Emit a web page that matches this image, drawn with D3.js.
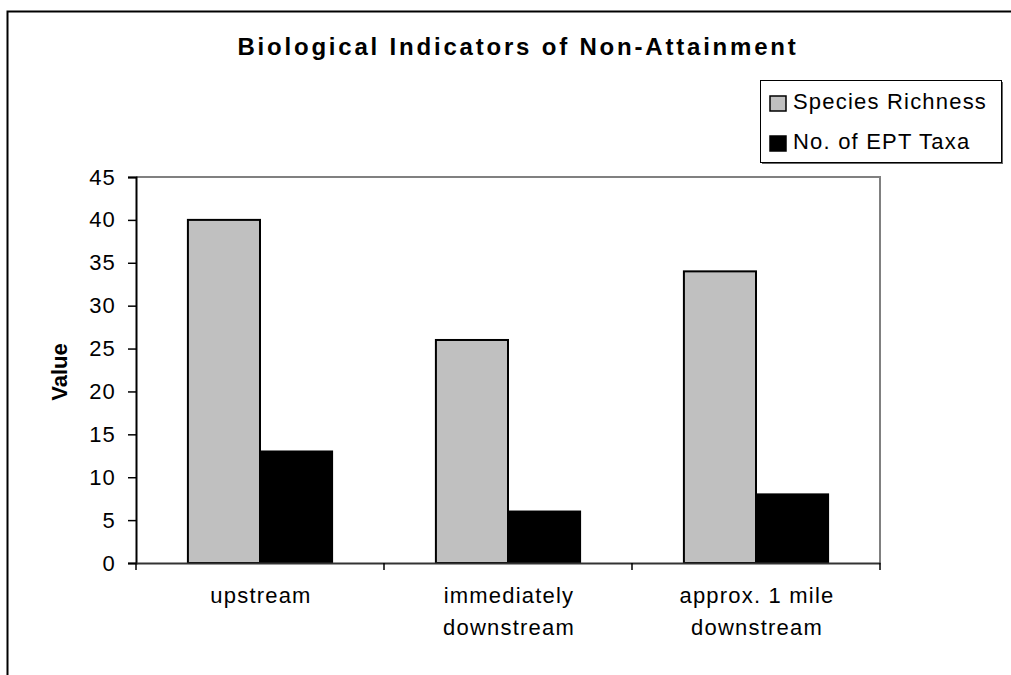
<!DOCTYPE html>
<html>
<head>
<meta charset="utf-8">
<script src="https://cdn.jsdelivr.net/npm/d3@7"></script>
<style>
  body { margin: 0; background: #fff; }
  svg { display: block; font-family: Arial, "Liberation Sans", sans-serif; }
</style>
</head>
<body>
<script>
// Chart data
var categories = ["upstream", "immediately\ndownstream", "approx. 1 mile\ndownstream"];
var seriesNames = ["Species Richness", "No. of EPT Taxa"];
var speciesRichness = [40, 26, 34];
var eptTaxa = [13, 6, 8];
var seriesColors = ["#c0c0c0", "#000000"];
var yTicks = [0, 5, 10, 15, 20, 25, 30, 35, 40, 45];

var svgWidth = 1011;
var svgHeight = 675;

// plot area
var plot = { left: 136, right: 880, top: 177, bottom: 563 };

var svg = d3.select("body")
  .append("svg")
  .attr("width", svgWidth)
  .attr("height", svgHeight);

// outer frame (only left and top visible)
svg.append("path")
  .attr("d", "M7.5,675 L7.5,11.5 L1011,11.5")
  .attr("fill", "none")
  .attr("stroke", "#000")
  .attr("stroke-width", 2);

// title
svg.append("text")
  .attr("x", 518)
  .attr("y", 55)
  .attr("text-anchor", "middle")
  .attr("font-size", 24)
  .attr("font-weight", "bold")
  .attr("letter-spacing", 2.8)
  .text("Biological Indicators of Non-Attainment");

var rows = categories.map(function(c, i) {
  return { cat: c, values: [speciesRichness[i], eptTaxa[i]] };
});

var x0 = d3.scaleBand()
  .domain(categories)
  .range([plot.left, plot.right])
  .padding(0);

var x1 = d3.scaleBand()
  .domain(seriesNames)
  .range([0, x0.bandwidth()])
  .paddingInner(0)
  .paddingOuter(0.72);

var y = d3.scaleLinear()
  .domain([0, 45])
  .range([plot.bottom, plot.top]);

// plot border top / right in gray
svg.append("path")
  .attr("d", `M${plot.left},${plot.top} L${plot.right},${plot.top} L${plot.right},${plot.bottom}`)
  .attr("fill", "none")
  .attr("stroke", "#808080")
  .attr("stroke-width", 2);

// bars
var groups = svg.selectAll(".group")
  .data(rows)
  .enter()
  .append("g")
  .attr("class", "group")
  .attr("transform", d => `translate(${x0(d.cat)},0)`);

groups.selectAll("rect")
  .data(d => d.values.map((v, j) => ({ name: seriesNames[j], value: v, j: j })))
  .enter()
  .append("rect")
  .attr("x", d => x1(d.name))
  .attr("y", d => y(d.value))
  .attr("width", x1.bandwidth())
  .attr("height", d => y(0) - y(d.value))
  .attr("fill", d => seriesColors[d.j])
  .attr("stroke", "#000")
  .attr("stroke-width", 2);

// y axis
var yAxis = d3.axisLeft(y)
  .tickValues(yTicks)
  .tickSize(8)
  .tickPadding(12);

var yG = svg.append("g")
  .attr("transform", `translate(${plot.left},0)`)
  .call(yAxis);
yG.select(".domain").attr("stroke", "#000").attr("stroke-width", 2);
yG.selectAll(".tick line").attr("stroke", "#000").attr("stroke-width", 1.5);
yG.selectAll(".tick text")
  .attr("font-size", 22)
  .attr("font-family", "Arial, 'Liberation Sans', sans-serif")
  .attr("letter-spacing", 1.2)
  .attr("fill", "#000");

// x axis
var xAxis = d3.axisBottom(x0).tickSize(0).tickFormat("");
var xG = svg.append("g")
  .attr("transform", `translate(0,${plot.bottom})`)
  .call(xAxis);
xG.select(".domain").attr("stroke", "#333").attr("stroke-width", 2);

// tick marks at category boundaries
var bounds = categories.map(c => x0(c)).concat([x0(categories[categories.length - 1]) + x0.bandwidth()]);
svg.selectAll(".xtick")
  .data(bounds)
  .enter()
  .append("line")
  .attr("x1", d => d)
  .attr("x2", d => d)
  .attr("y1", plot.bottom)
  .attr("y2", plot.bottom + 7)
  .attr("stroke", "#000")
  .attr("stroke-width", 1.5);

// category labels
svg.selectAll(".xlabel")
  .data(categories)
  .enter()
  .append("text")
  .attr("class", "xlabel")
  .attr("y", 603)
  .attr("text-anchor", "middle")
  .attr("font-size", 22)
  .attr("letter-spacing", 1.2)
  .each(function(d) {
    var lines = d.split("\n");
    var t = d3.select(this);
    lines.forEach(function(l, k) {
      t.append("tspan")
        .attr("x", x0(d) + x0.bandwidth() / 2 + 1)
        .attr("dy", k === 0 ? 0 : 32)
        .text(l);
    });
  });

// y axis title
svg.append("text")
  .attr("transform", `translate(67,${(plot.top + plot.bottom) / 2 + 2}) rotate(-90)`)
  .attr("text-anchor", "middle")
  .attr("font-size", 22)
  .attr("font-weight", "bold")
  .text("Value");

// legend
var legend = svg.append("g").attr("transform", "translate(760,80)");
legend.append("rect")
  .attr("x", 2).attr("y", 2)
  .attr("width", 241).attr("height", 82)
  .attr("fill", "#666");
legend.append("rect")
  .attr("x", 0.5).attr("y", 0.5)
  .attr("width", 241).attr("height", 82)
  .attr("fill", "#fff")
  .attr("stroke", "#000")
  .attr("stroke-width", 1);

var legendItems = legend.selectAll(".item")
  .data(seriesNames)
  .enter()
  .append("g")
  .attr("transform", (d, i) => `translate(0,${i * 40})`);

legendItems.append("rect")
  .attr("x", 10)
  .attr("y", 16)
  .attr("width", 16)
  .attr("height", 15)
  .attr("fill", (d, i) => seriesColors[i])
  .attr("stroke", "#000")
  .attr("stroke-width", 1.5);

legendItems.append("text")
  .attr("x", 33)
  .attr("y", 29)
  .attr("font-size", 22)
  .attr("letter-spacing", 1.2)
  .text(d => d);
</script>
</body>
</html>
